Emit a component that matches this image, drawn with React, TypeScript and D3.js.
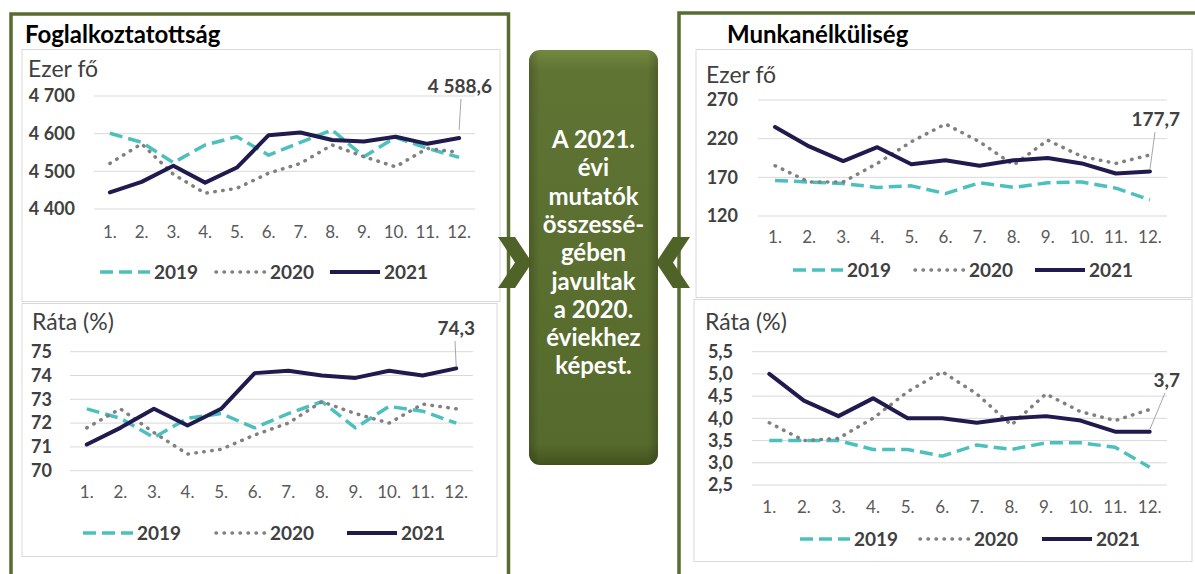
import React from 'react';
import * as d3 from 'd3';

// Adatok (havi értékek)
const months = ['1.', '2.', '3.', '4.', '5.', '6.', '7.', '8.', '9.', '10.', '11.', '12.'];
const years = ['2019', '2020', '2021'];

const empThousand2019 = [4601, 4577, 4523, 4570, 4592, 4543, 4577, 4610, 4539, 4590, 4561, 4537];
const empThousand2020 = [4521, 4573, 4492, 4442, 4455, 4495, 4521, 4570, 4539, 4512, 4561, 4550];
const empThousand2021 = [4444, 4472, 4515, 4470, 4510, 4596, 4603, 4583, 4579, 4592, 4573, 4588.6];

const empRate2019 = [72.6, 72.2, 71.4, 72.2, 72.4, 71.8, 72.4, 72.9, 71.8, 72.7, 72.5, 72.0];
const empRate2020 = [71.8, 72.6, 71.6, 70.7, 70.9, 71.5, 72.0, 72.9, 72.4, 72.0, 72.8, 72.6];
const empRate2021 = [71.1, 71.8, 72.6, 71.9, 72.6, 74.1, 74.2, 74.0, 73.9, 74.2, 74.0, 74.3];

const unempThousand2019 = [166, 164, 162, 157, 159, 149, 163, 157, 163, 164, 156, 141];
const unempThousand2020 = [185, 164, 164, 188, 216, 239, 216, 186, 218, 197, 188, 199];
const unempThousand2021 = [235, 210, 191, 209, 187, 192, 185, 192, 195, 188, 175, 177.7];

const unempRate2019 = [3.5, 3.5, 3.5, 3.3, 3.3, 3.15, 3.4, 3.3, 3.45, 3.45, 3.35, 2.9];
const unempRate2020 = [3.9, 3.5, 3.55, 4.0, 4.6, 5.05, 4.55, 3.85, 4.55, 4.15, 3.95, 4.2];
const unempRate2021 = [5.0, 4.4, 4.05, 4.45, 4.0, 4.0, 3.9, 4.0, 4.05, 3.95, 3.7, 3.7];

const empThousandTicks = [4400, 4500, 4600, 4700];
const empRateTicks = [70, 71, 72, 73, 74, 75];
const unempThousandTicks = [120, 170, 220, 270];
const unempRateTicks = [2.5, 3.0, 3.5, 4.0, 4.5, 5.0, 5.5];

const noteLines = ['A 2021.', 'évi', 'mutatók', 'összessé-', 'gében', 'javultak', 'a 2020.', 'éviekhez', 'képest.'];

const hu = d3.formatLocale({ decimal: ',', thousands: ' ', grouping: [3], currency: ['', ' Ft'] });

const FONT = 'Lato, "Open Sans", sans-serif';
const TEXT = '#404040';
const GREEN = '#5a6b30';
const styles = [
  { stroke: '#4cc0bd', width: 3.5, dash: '13 6', cap: 'butt' },
  { stroke: '#808080', width: 3.5, dash: '0.5 7.5', cap: 'round' },
  { stroke: '#201b4e', width: 4, dash: null, cap: 'round' },
];

type Cfg = {
  x0: number; x1: number; yTop: number; yBot: number;
  domain: [number, number]; ticks: number[]; tickFmt: string; tickRight: number;
  xLabelY: number; unit: string; unitX: number; unitY: number;
  series: number[][]; labelFmt: string; labelRight: number; labelY: number; leaderX: number; leaderGap: number;
  legendY: number; legendX: number[];
};

function LineChart({ c }: { c: Cfg }) {
  const x = d3.scaleBand().domain(months).range([c.x0, c.x1]);
  const cx = (m: string) => (x(m) as number) + x.bandwidth() / 2;
  const y = d3.scaleLinear().domain(c.domain).range([c.yBot, c.yTop]);
  const line = d3
    .line<number>()
    .x((_, i) => cx(months[i]))
    .y((d) => y(d));
  const tf = hu.format(c.tickFmt);
  const last = c.series[2][11];
  const px = cx(months[11]);
  const py = y(last);

  return (
    <g fontFamily={FONT}>
      <text x={c.unitX} y={c.unitY} fontSize={23} fill={TEXT}>{c.unit}</text>
      {c.ticks.map((t) => (
        <g key={t}>
          <line x1={c.x0} x2={c.x1} y1={y(t)} y2={y(t)} stroke="#d9d9d9" strokeWidth={1} />
          <text x={c.tickRight} y={y(t)} dy="0.35em" textAnchor="end" fontSize={18} fontWeight="bold" fill={TEXT}>
            {tf(t)}
          </text>
        </g>
      ))}
      {months.map((m) => (
        <text key={m} x={cx(m)} y={c.xLabelY} textAnchor="middle" fontSize={17} fill="#595959">{m}</text>
      ))}
      {c.series.map((s, i) => (
        <path
          key={i}
          d={line(s) || ''}
          fill="none"
          stroke={styles[i].stroke}
          strokeWidth={styles[i].width}
          strokeDasharray={styles[i].dash || undefined}
          strokeLinecap={styles[i].cap as any}
          strokeLinejoin="round"
        />
      ))}
      <line x1={c.leaderX} y1={c.labelY + 6} x2={px} y2={py - c.leaderGap} stroke="#a6a6a6" strokeWidth={1} />
      <text x={c.labelRight} y={c.labelY} textAnchor="end" fontSize={19} fontWeight="bold" fill={TEXT}>
        {hu.format(c.labelFmt)(last)}
      </text>
      {years.map((yr, i) => (
        <g key={yr}>
          <line
            x1={c.legendX[i]}
            x2={c.legendX[i] + 50}
            y1={c.legendY}
            y2={c.legendY}
            stroke={styles[i].stroke}
            strokeWidth={styles[i].width}
            strokeDasharray={styles[i].dash || undefined}
            strokeLinecap={i === 1 ? 'round' : 'butt'}
          />
          <text x={c.legendX[i] + 54} y={c.legendY} dy="0.36em" fontSize={19} fontWeight="bold" fill={TEXT}>{yr}</text>
        </g>
      ))}
    </g>
  );
}

const charts: Cfg[] = [
  {
    x0: 94, x1: 475, yTop: 96, yBot: 209, domain: [4400, 4700], ticks: empThousandTicks, tickFmt: ',.0f', tickRight: 75,
    xLabelY: 238, unit: 'Ezer fő', unitX: 28, unitY: 77,
    series: [empThousand2019, empThousand2020, empThousand2021], labelFmt: ',.1f', labelRight: 492, labelY: 93, leaderX: 461, leaderGap: 8,
    legendY: 272, legendX: [100, 216, 330],
  },
  {
    x0: 70, x1: 473, yTop: 351.7, yBot: 470.7, domain: [70, 75], ticks: empRateTicks, tickFmt: '.0f', tickRight: 52,
    xLabelY: 498, unit: 'Ráta (%)', unitX: 32, unitY: 330,
    series: [empRate2019, empRate2020, empRate2021], labelFmt: '.1f', labelRight: 475, labelY: 335, leaderX: 455, leaderGap: 2,
    legendY: 533, legendX: [83, 216, 347],
  },
  {
    x0: 758, x1: 1167, yTop: 100, yBot: 216, domain: [120, 270], ticks: unempThousandTicks, tickFmt: '.0f', tickRight: 738,
    xLabelY: 243, unit: 'Ezer fő', unitX: 706, unitY: 83,
    series: [unempThousand2019, unempThousand2020, unempThousand2021], labelFmt: '.1f', labelRight: 1180, labelY: 126, leaderX: 1155, leaderGap: 2,
    legendY: 270, legendX: [793, 915, 1035],
  },
  {
    x0: 752, x1: 1167, yTop: 351.7, yBot: 485, domain: [2.5, 5.5], ticks: unempRateTicks, tickFmt: '.1f', tickRight: 733,
    xLabelY: 513, unit: 'Ráta (%)', unitX: 705, unitY: 330,
    series: [unempRate2019, unempRate2020, unempRate2021], labelFmt: '.1f', labelRight: 1180, labelY: 387, leaderX: 1165, leaderGap: 2,
    legendY: 539, legendX: [800, 920, 1042],
  },
];

function chevron(x0: number, yTop: number, w: number, h: number, d: number, flip: boolean) {
  const pts = [
    [0, 0], [w - d, 0], [w, h / 2], [w - d, h], [0, h], [d, h / 2],
  ].map(([a, b]) => [flip ? x0 + w - a : x0 + a, yTop + b]);
  return pts.map((p) => p.join(',')).join(' ');
}

export default function App() {
  return (
    <svg width={1195} height={574} style={{ position: 'absolute', left: 0, top: 0, background: '#fff' }}>
      <defs>
        <linearGradient id="boxGrad" x1="0" y1="0" x2="0" y2="1">
          <stop offset="0" stopColor="#73883f" />
          <stop offset="0.05" stopColor="#5f7333" />
          <stop offset="0.95" stopColor="#566a2d" />
          <stop offset="1" stopColor="#42521e" />
        </linearGradient>
        <linearGradient id="boxSide" x1="0" y1="0" x2="1" y2="0">
          <stop offset="0" stopColor="#000" stopOpacity="0.18" />
          <stop offset="0.08" stopColor="#000" stopOpacity="0" />
          <stop offset="0.92" stopColor="#000" stopOpacity="0" />
          <stop offset="1" stopColor="#000" stopOpacity="0.18" />
        </linearGradient>
      </defs>

      {/* külső keretek */}
      <rect x={11} y={14} width={497.5} height={600} fill="none" stroke={GREEN} strokeWidth={3.5} />
      <rect x={679} y={13} width={560} height={600} fill="none" stroke={GREEN} strokeWidth={3.5} />

      {/* belső diagram keretek */}
      <rect x={22} y={49.5} width={478} height={252} fill="#fff" stroke="#d9d9d9" />
      <rect x={22} y={303.5} width={475} height={253} fill="#fff" stroke="#d9d9d9" />
      <rect x={696} y={49.5} width={496} height={248} fill="#fff" stroke="#d9d9d9" />
      <rect x={694} y={299.5} width={498} height={262} fill="#fff" stroke="#d9d9d9" />

      <text x={25} y={43} fontFamily={FONT} fontSize={24} fontWeight="bold" fill="#000">Foglalkoztatottság</text>
      <text x={727} y={43} fontFamily={FONT} fontSize={24} fontWeight="bold" fill="#000">Munkanélküliség</text>

      {charts.map((c, i) => (
        <LineChart key={i} c={c} />
      ))}

      {/* nyilak */}
      <polygon points={chevron(498, 237, 34, 51, 17, false)} fill="#4f6228" />
      <polygon points={chevron(656, 237, 34, 51, 17, true)} fill="#4f6228" />

      {/* középső szövegdoboz */}
      <rect x={529} y={50} width={129} height={415} rx={11} fill="url(#boxGrad)" />
      <rect x={529} y={50} width={129} height={415} rx={11} fill="url(#boxSide)" />
      <g fontFamily={FONT} fontSize={24} fontWeight="bold" fill="#fff" textAnchor="middle">
        {noteLines.map((t, i) => (
          <text key={i} x={593.5} y={148 + i * 28.3}>{t}</text>
        ))}
      </g>
    </svg>
  );
}
